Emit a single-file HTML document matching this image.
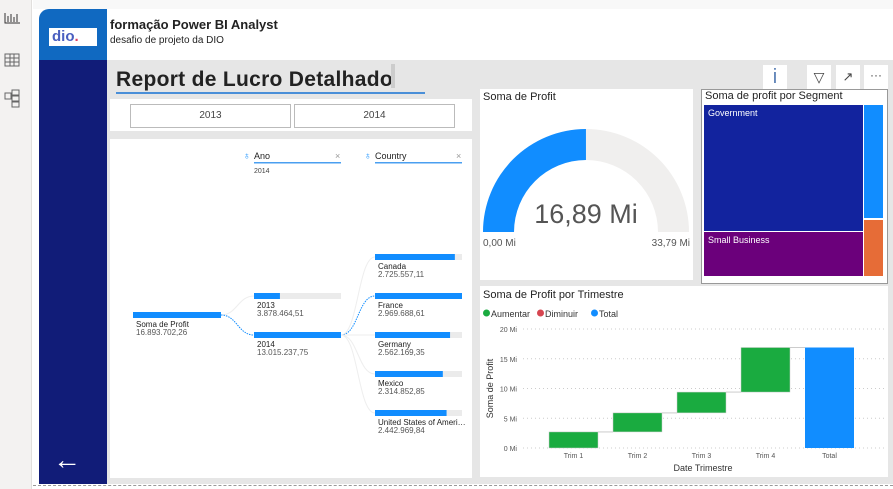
<!DOCTYPE html>
<html><head><meta charset="utf-8"><style>
*{box-sizing:border-box;margin:0;padding:0}
body{width:893px;height:489px;overflow:hidden;background:#fff;font-family:"Liberation Sans",sans-serif;position:relative}
.a{position:absolute}
svg text{font-family:"Liberation Sans",sans-serif}
</style></head><body>
<div class="a" style="left:0;top:0;width:32px;height:489px;background:#f3f2f1;border-right:1px solid #e1dfdd"></div>
<svg class="a" style="left:0;top:0" width="32" height="120">
 <g stroke="#333" fill="none" stroke-width="1"><path d="M5 13v10h15M8 22v-6M11 22v-8M14 22v-5M17 22v-8"/></g>
 <g stroke="#666" fill="none"><rect x="5" y="54" width="14" height="12"/><path d="M5 58h14M5 62h14M10 54v12M14 54v12"/></g>
 <g stroke="#666" fill="none"><rect x="5" y="93" width="6" height="6"/><rect x="12" y="90" width="7" height="5"/><rect x="12" y="96" width="7" height="5"/><rect x="12" y="102" width="7" height="5"/></g>
</svg>
<div class="a" style="left:33px;top:0;width:860px;height:9px;background:#f8f8f8"></div>
<div class="a" style="left:39px;top:9px;width:68px;height:51px;background:#1069c1;border-top-left-radius:10px"></div>
<div class="a" style="left:49px;top:28px;width:48px;height:18px;background:#fff;font:bold 15px 'Liberation Sans',sans-serif;color:#4a5fc0;line-height:18px;padding-left:3px">dio<span style="color:#e04060">.</span></div>
<div class="a" style="left:39px;top:60px;width:68px;height:424px;background:#111c78"></div>
<div class="a" style="left:53px;top:446px;color:#fff;font-size:28px;line-height:28px">&#8592;</div>
<div class="a" style="left:107px;top:9px;width:786px;height:51px;background:#fff"></div>
<div class="a" style="left:110px;top:17px;font-size:13px;font-weight:bold;color:#222">formação Power BI Analyst</div>
<div class="a" style="left:110px;top:35px;font-size:10px;color:#222">desafio de projeto da DIO</div>
<div class="a" style="left:107px;top:60px;width:786px;height:424px;background:#e6e6e6"></div>
<div class="a" style="left:33px;top:485px;width:860px;border-top:1px dashed #999"></div>
<div class="a" style="left:116px;top:68px;font-size:21px;font-weight:bold;color:#222;letter-spacing:0.3px">Report de Lucro Detalhado</div>
<div class="a" style="left:391px;top:64px;width:4px;height:24px;background:#ccc"></div>
<div class="a" style="left:116px;top:92px;width:309px;height:2px;background:#4a8fd8"></div>
<div class="a" style="left:110px;top:99px;width:362px;height:32px;background:#fff"></div>
<div class="a" style="left:130px;top:104px;width:161px;height:24px;border:1px solid #bbb;font-size:10px;color:#444;text-align:center;line-height:22px">2013</div>
<div class="a" style="left:294px;top:104px;width:161px;height:24px;border:1px solid #bbb;font-size:10px;color:#444;text-align:center;line-height:22px">2014</div>
<div class="a" style="left:110px;top:139px;width:362px;height:339px;background:#fff"></div>
<svg class="a" id="tree" style="left:110px;top:139px" width="362" height="339"></svg>
<div class="a" style="left:480px;top:89px;width:213px;height:191px;background:#fff"></div>
<div class="a" style="left:483px;top:91px;font-size:11px;color:#222">Soma de Profit</div>
<svg class="a" style="left:480px;top:89px" width="213" height="191">
 <path d="M3 143 A103 103 0 0 1 209 143 L178 143 A72 72 0 0 0 34 143Z" fill="#f0efee"/>
 <path id="gfill" fill="#118dff"/>
 <text x="106" y="134" font-size="27" fill="#555" text-anchor="middle">16,89 Mi</text>
 <text x="3" y="157" font-size="10" fill="#555">0,00 Mi</text>
 <text x="210" y="157" font-size="10" fill="#555" text-anchor="end">33,79 Mi</text>
</svg>
<div class="a" style="left:701px;top:89px;width:187px;height:195px;background:#fff;border:1px solid #999"></div>
<div class="a" style="left:705px;top:90px;font-size:11px;color:#222">Soma de profit por Segment</div>
<div class="a" style="left:704px;top:105px;width:159px;height:126px;background:#12239e;color:#fff;font-size:9px;padding:3px 4px">Government</div>
<div class="a" style="left:704px;top:232px;width:159px;height:44px;background:#6b007b;color:#fff;font-size:9px;padding:3px 4px">Small Business</div>
<div class="a" style="left:864px;top:105px;width:19px;height:113px;background:#118dff"></div>
<div class="a" style="left:864px;top:220px;width:19px;height:56px;background:#e66c37"></div>
<div class="a" style="left:763px;top:65px;width:24px;height:24px;background:#fff;color:#5a7fb5;font-size:20px;text-align:center;line-height:24px">i</div>
<div class="a" style="left:807px;top:65px;width:24px;height:24px;background:#fff;color:#444;font-size:14px;text-align:center;line-height:24px">&#9661;</div>
<div class="a" style="left:836px;top:65px;width:24px;height:24px;background:#fff;color:#444;font-size:13px;text-align:center;line-height:24px">&#8599;</div>
<div class="a" style="left:864px;top:65px;width:24px;height:24px;background:#fff;color:#444;font-size:12px;text-align:center;line-height:20px">···</div>
<div class="a" style="left:480px;top:286px;width:408px;height:191px;background:#fff"></div>
<svg class="a" id="wf" style="left:480px;top:286px" width="408" height="191"></svg>
<script>
// Gauge
const gaugeValue=16.89, gaugeMax=33.79;
(function(){const cx=106,cy=143,R=103,r=72;const a=Math.PI*(1-gaugeValue/gaugeMax);
const x1=cx+R*Math.cos(a),y1=cy-R*Math.sin(a),x2=cx+r*Math.cos(a),y2=cy-r*Math.sin(a);
document.getElementById('gfill').setAttribute('d',`M${cx-R} ${cy} A${R} ${R} 0 0 1 ${x1} ${y1} L${x2} ${y2} A${r} ${r} 0 0 0 ${cx-r} ${cy}Z`);})();

// Decomposition tree
const rootLabel='Soma de Profit', rootValue='16.893.702,26';
const years=['2013','2014'];
const yearVals=[3878464.51,13015237.75];
const yearLabels=['3.878.464,51','13.015.237,75'];
const countries=['Canada','France','Germany','Mexico','United States of Ameri…'];
const countryVals=[2725557.11,2969688.61,2562169.35,2314852.85,2442969.84];
const countryLabels=['2.725.557,11','2.969.688,61','2.562.169,35','2.314.852,85','2.442.969,84'];
const NS='http://www.w3.org/2000/svg';
function mk(p,t,at){const e=document.createElementNS(NS,t);for(const k in at)e.setAttribute(k,at[k]);p.appendChild(e);return e;}
(function(){const s=document.getElementById('tree');
function hdr(x,txt,name){const g=mk(s,'g',{});


mk(g,'text',{x:x-11,y:20,'font-size':10,fill:'#118dff'}).textContent='♁';
mk(g,'text',{x:x,y:20,'font-size':9,fill:'#222'}).textContent=txt;
mk(g,'text',{x:x+81,y:20,'font-size':9,fill:'#999'}).textContent='×';
mk(g,'rect',{x:x,y:23,width:87,height:1.5,fill:'#4a9ff0'});}
hdr(144,'Ano','ano-header');hdr(265,'Country','country-header');
mk(s,'text',{x:144,y:34,'font-size':7,fill:'#444'}).textContent='2014';
function node(x,y,frac,lab,val,name,w){const g=mk(s,'g',{});


mk(g,'rect',{x:x,y:y,width:w,height:6,fill:'#ebebeb'});
mk(g,'rect',{x:x,y:y,width:w*frac,height:6,fill:'#118dff'});
mk(g,'text',{x:x+3,y:y+15,'font-size':8,fill:'#222'}).textContent=lab;
mk(g,'text',{x:x+3,y:y+23,'font-size':8,fill:'#555'}).textContent=val;}
const rootY=173;
node(23,rootY,1,rootLabel,rootValue,'root-node',88);
const ymax=Math.max(...yearVals);
years.forEach((y,i)=>{const yy=154+i*39;
mk(s,'path',{d:`M111 ${rootY+3} C127 ${rootY+3},128 ${yy+3},144 ${yy+3}`,stroke:i==1?'#118dff':'#eee',fill:'none','stroke-dasharray':i==1?'1.5 1':'none'});
node(144,yy,yearVals[i]/ymax,y,yearLabels[i],'year-node-'+y,87);});
const cmax=Math.max(...countryVals);
countries.forEach((c,i)=>{const yy=115+i*39;
mk(s,'path',{d:`M231 196 C248 196,248 ${yy+3},265 ${yy+3}`,stroke:i==1?'#118dff':'#eee',fill:'none','stroke-dasharray':i==1?'1.5 1':'none'});
node(265,yy,countryVals[i]/cmax,c,countryLabels[i],'country-node-'+i,87);});
})();

// Waterfall
const quarters=['Trim 1','Trim 2','Trim 3','Trim 4'];
const quarterVals=[2.7,3.2,3.5,7.49];
const yTicks=[0,5,10,15,20];
const yTickLabels=['0 Mi','5 Mi','10 Mi','15 Mi','20 Mi'];
(function(){const s=document.getElementById('wf');
const y0=162,ppu=5.95,x0=53,step=64,bw=49;
const Y=v=>y0-v*ppu;
mk(s,'text',{x:3,y:12,'font-size':11,fill:'#222'}).textContent='Soma de Profit por Trimestre';
const lg=[['Aumentar','#1aab40'],['Diminuir','#d64550'],['Total','#118dff']];let lx=3;
lg.forEach(([t,c])=>{const g=mk(s,'g',{});


mk(g,'circle',{cx:lx+3.5,cy:27,r:3.5,fill:c});mk(g,'text',{x:lx+8,y:31,'font-size':9,fill:'#333'}).textContent=t;lx+=8+t.length*5+6;});
yTicks.forEach((v,i)=>{mk(s,'line',{x1:43,x2:405,y1:Y(v),y2:Y(v),stroke:'#ccc','stroke-dasharray':'1 3'});
const t=mk(s,'text',{x:37,y:Y(v)+3,'font-size':7,fill:'#555','text-anchor':'end'});t.textContent=yTickLabels[i];

});
const yt=mk(s,'text',{x:0,y:0,'font-size':9,fill:'#333','text-anchor':'middle',transform:`translate(13,${Y(10)}) rotate(-90)`});yt.textContent='Soma de Profit';


let cum=0;
quarters.forEach((q,i)=>{const x=x0+16+i*step;const a=cum,b=cum+quarterVals[i];
const r=mk(s,'rect',{x:x,y:Y(b),width:bw,height:Y(a)-Y(b),fill:'#1aab40',stroke:'#ccc','stroke-width':0.5});


mk(s,'line',{x1:x+bw,x2:x+step,y1:Y(b),y2:Y(b),stroke:'#ccc'});
mk(s,'text',{x:x+bw/2,y:Y(0)+10,'font-size':7,fill:'#555','text-anchor':'middle'}).textContent=q;cum=b;});
const tx=x0+16+4*step;
const tr=mk(s,'rect',{x:tx,y:Y(cum),width:bw,height:Y(0)-Y(cum),fill:'#118dff'});


mk(s,'text',{x:tx+bw/2,y:Y(0)+10,'font-size':7,fill:'#555','text-anchor':'middle'}).textContent='Total';
const xt=mk(s,'text',{x:223,y:185,'font-size':9,fill:'#333','text-anchor':'middle'});xt.textContent='Date Trimestre';


})();
</script>
</body></html>
